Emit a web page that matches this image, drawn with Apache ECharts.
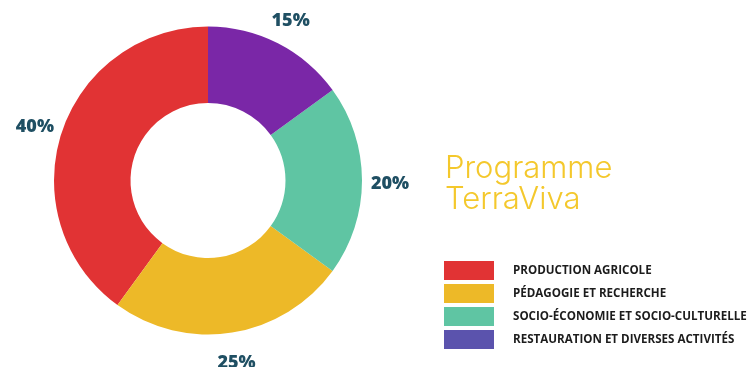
<!DOCTYPE html>
<html>
<head>
<meta charset="utf-8">
<script src="https://cdn.jsdelivr.net/npm/echarts@6/dist/echarts.min.js"></script>
<style>
  html, body { margin: 0; padding: 0; background: #ffffff; }
  #chart { width: 750px; height: 367px; }
</style>
</head>
<body>
<div id="chart"></div>
<script>
// Répartition du programme TerraViva
const categories = [
  'PRODUCTION AGRICOLE',
  'PÉDAGOGIE ET RECHERCHE',
  'SOCIO-ÉCONOMIE ET SOCIO-CULTURELLE',
  'RESTAURATION ET DIVERSES ACTIVITÉS'
];
const shares = [40, 25, 20, 15];
const sliceColors = ['#e13334', '#edb928', '#5fc5a3', '#7a27a7'];
const legendColors = ['#e13334', '#edb928', '#5fc5a3', '#5b53ad'];

const center = [208, 180.5];

const chart = echarts.init(document.getElementById('chart'), null, { renderer: 'canvas' });

chart.setOption({
  backgroundColor: '#ffffff',
  animation: false,
  title: {
    text: 'Programme\nTerraViva',
    left: 445,
    top: 153,
    padding: 0,
    textStyle: {
      fontFamily: 'Inter',
      fontWeight: 300,
      fontSize: 31,
      lineHeight: 31,
      color: '#f4c82c'
    }
  },
  legend: {
    orient: 'vertical',
    left: 444,
    top: 261,
    padding: 0,
    itemWidth: 50,
    itemHeight: 19,
    itemGap: 4,
    icon: 'rect',
    selectedMode: false,
    data: categories.map((name, i) => ({
      name,
      itemStyle: { color: legendColors[i] }
    })),
    textStyle: {
      fontFamily: 'Open Sans',
      fontWeight: 'bold',
      fontSize: 11.6,
      color: '#1c1c1c',
      padding: [0, 0, 0, 14]
    }
  },
  series: [
    {
      type: 'pie',
      center,
      radius: [77.5, 154],
      startAngle: 90,
      clockwise: false,
      silent: true,
      label: { show: false },
      labelLine: { show: false },
      data: categories.map((name, i) => ({
        name,
        value: shares[i],
        itemStyle: { color: sliceColors[i] }
      }))
    },
    {
      // invisible outer ring that carries the percentage labels
      type: 'pie',
      center,
      radius: [175, 183],
      startAngle: 90,
      clockwise: false,
      silent: true,
      itemStyle: { color: 'rgba(0,0,0,0)' },
      labelLine: { show: false },
      label: {
        show: true,
        position: 'inside',
        offset: [0, 3],
        formatter: p => p.value + '%',
        fontFamily: 'Open Sans',
        fontWeight: 800,
        fontSize: 18,
        color: '#1f4f63'
      },
      data: categories.map((name, i) => ({ name, value: shares[i] }))
    }
  ]
});
</script>
</body>
</html>
